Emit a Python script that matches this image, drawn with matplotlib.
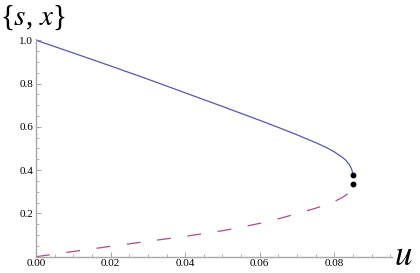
import matplotlib
matplotlib.use('Agg')
import matplotlib.pyplot as plt
from matplotlib.ticker import MultipleLocator, FixedLocator

# upper (solid) branch
u_upper = [0.0, 0.01, 0.02, 0.03, 0.04, 0.05, 0.06, 0.065, 0.07, 0.075,
           0.078, 0.08, 0.082, 0.083, 0.084, 0.0845, 0.0848, 0.085]
s_upper = [1.0, 0.941, 0.881, 0.820, 0.757, 0.694, 0.630, 0.597, 0.563, 0.527,
           0.503, 0.484, 0.461, 0.447, 0.426, 0.410, 0.396, 0.376]

# lower (dashed) branch
u_lower = [0.0, 0.01, 0.02, 0.03, 0.04, 0.045, 0.05, 0.055, 0.06, 0.065, 0.07,
           0.075, 0.078, 0.08, 0.082, 0.083, 0.084, 0.0845, 0.0848, 0.085]
s_lower = [0.0, 0.024, 0.048, 0.071, 0.094, 0.107, 0.120, 0.136, 0.154, 0.175,
           0.199, 0.224, 0.241, 0.255, 0.272, 0.283, 0.297, 0.308, 0.318, 0.334]

# end points
u_dots = [0.085, 0.085]
s_dots = [0.376, 0.334]

xticks = [0.0, 0.02, 0.04, 0.06, 0.08]
yticks = [0.2, 0.4, 0.6, 0.8, 1.0]

plt.rcParams['lines.scale_dashes'] = False
plt.rcParams['font.family'] = ['Liberation Serif', 'DejaVu Serif']
plt.rcParams['mathtext.fontset'] = 'stix'

fig = plt.figure(figsize=(4.2, 2.73), dpi=100)
ax = fig.add_axes([0.0857, 0.0597, 0.847, 0.797])

ax.plot(u_upper, s_upper, color='#5757b5', lw=0.9)
ax.plot(u_lower, s_lower, color='#a84d88', lw=0.9, dashes=(10, 12))
ax.plot(u_dots, s_dots, 'o', color='black', ms=3.2, clip_on=False)

ax.set_xlim(0, 0.0954)
ax.set_ylim(0, 1.005)

for side in ['top', 'right']:
    ax.spines[side].set_visible(False)
for side in ['left', 'bottom']:
    ax.spines[side].set_color('#a8a8a8')
    ax.spines[side].set_linewidth(1.0)

ax.xaxis.set_major_locator(FixedLocator(xticks))
ax.yaxis.set_major_locator(FixedLocator(yticks))
ax.xaxis.set_minor_locator(MultipleLocator(0.005))
ax.yaxis.set_minor_locator(MultipleLocator(0.05))
ax.set_xticklabels(['%.2f' % t for t in xticks], fontsize=8)
ax.set_yticklabels(['%.1f' % t for t in yticks], fontsize=8)
ax.tick_params(which='major', direction='in', length=3.5, width=0.8, color='#a8a8a8', pad=2)
ax.tick_params(which='minor', direction='in', length=2, width=0.6, color='#a8a8a8')

fig.text(0.0, 0.908, r'{$s$, $x$}', fontsize=21, va='baseline')
fig.text(0.938, 0.029, r'$u$', fontsize=25, va='baseline')

plt.savefig('out.png', dpi=100)
